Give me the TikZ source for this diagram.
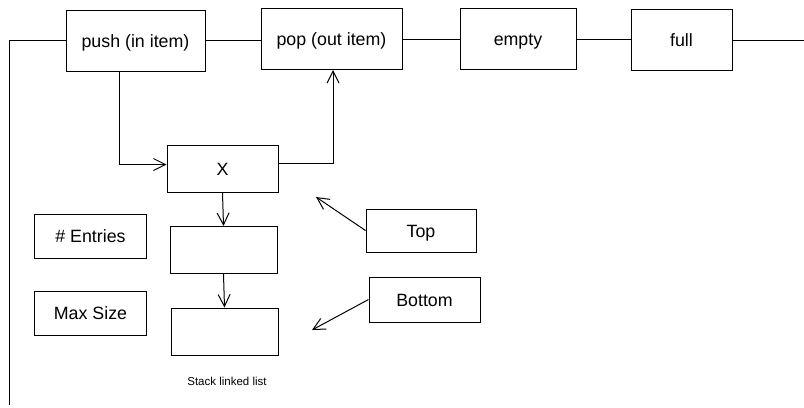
\documentclass[tikz,border=0pt]{standalone}
\usepackage{fontspec}
\setmainfont{Liberation Sans}
\usepackage{tikz}
\usetikzlibrary{arrows.meta,positioning}
\tikzset{
  opbox/.style={draw=black, line width=1bp, minimum height=61bp, inner sep=0pt,
    text height=16bp, text depth=3bp, font=\fontsize{17.8bp}{20bp}\selectfont},
  cellbox/.style={draw=black, line width=1bp, minimum width=107bp, minimum height=47bp, inner sep=0pt},
  infobox/.style={draw=black, line width=1bp, minimum width=111bp, minimum height=44bp, inner sep=0pt,
    text height=16bp, text depth=3bp, font=\fontsize{17.8bp}{20bp}\selectfont},
  link/.style={line width=1bp},
  ptr/.style={line width=1bp, -{Straight Barb[length=12bp,width=12bp]}},
}
\begin{document}
\begin{tikzpicture}[x=1bp, y=-1bp]
\useasboundingbox (0,0) rectangle (804,407);

% operations
\node [opbox, minimum width=139bp] (push) at (135.5,40.5) {push (in item)};
\node [opbox, minimum width=141bp] (pop) at (331.5,39) {pop (out item)};
\node [opbox, minimum width=116bp] (empty) at (518,39) {empty};
\node [opbox, minimum width=101bp] (full) at (681.5,40) {full};
\coordinate (lft) at (9,405);
\coordinate (rgt) at (804,41);

\draw [link] (push.west) -| (lft);
\draw [link] (push.east) -- (push.east -| pop.west);
\draw [link] (pop.east) -- (pop.east -| empty.west);
\draw [link] (empty.east) -- (empty.east -| full.west);
\draw [link] (full.east) -- (full.east -| rgt);

% the linked list
\node [cellbox, minimum width=111bp, text height=16bp, text depth=3bp] (x) at (222.5,168.5) {\fontsize{17.8bp}{20bp}\selectfont X};
\node [cellbox] (cell2) at (223.5,250) {};
\node [cellbox] (cell3) at (224.5,331.5) {};
\node [font=\fontsize{11.5bp}{14bp}\selectfont] (caption) at (227,381) {Stack linked list};

\draw [ptr] ([xshift=-16.5bp]push.south) |- ([yshift=4bp]x.west);
\draw [ptr] ([yshift=5bp]x.east) -| ([xshift=1.5bp]pop.south);
\draw [ptr] (x.south) -- (cell2.north);
\draw [ptr] (cell2.south) -- (cell3.north);

% top and bottom
\node [infobox, minimum width=110bp, minimum height=43bp] (top) at (421,230.5) {Top};
\node [infobox, minimum height=45bp] (bottom) at (424.5,299.5) {Bottom};
\coordinate (topend) at (316,197);
\coordinate (botend) at (312,330);
\draw [ptr] (top.west) -- (topend);
\draw [ptr] (bottom.west) -- (botend);

% counters
\node [infobox] (entries) at (90.5,236) {\# Entries};
\node [infobox] (maxsize) at (90.5,313) {Max Size};

\end{tikzpicture}
\end{document}
